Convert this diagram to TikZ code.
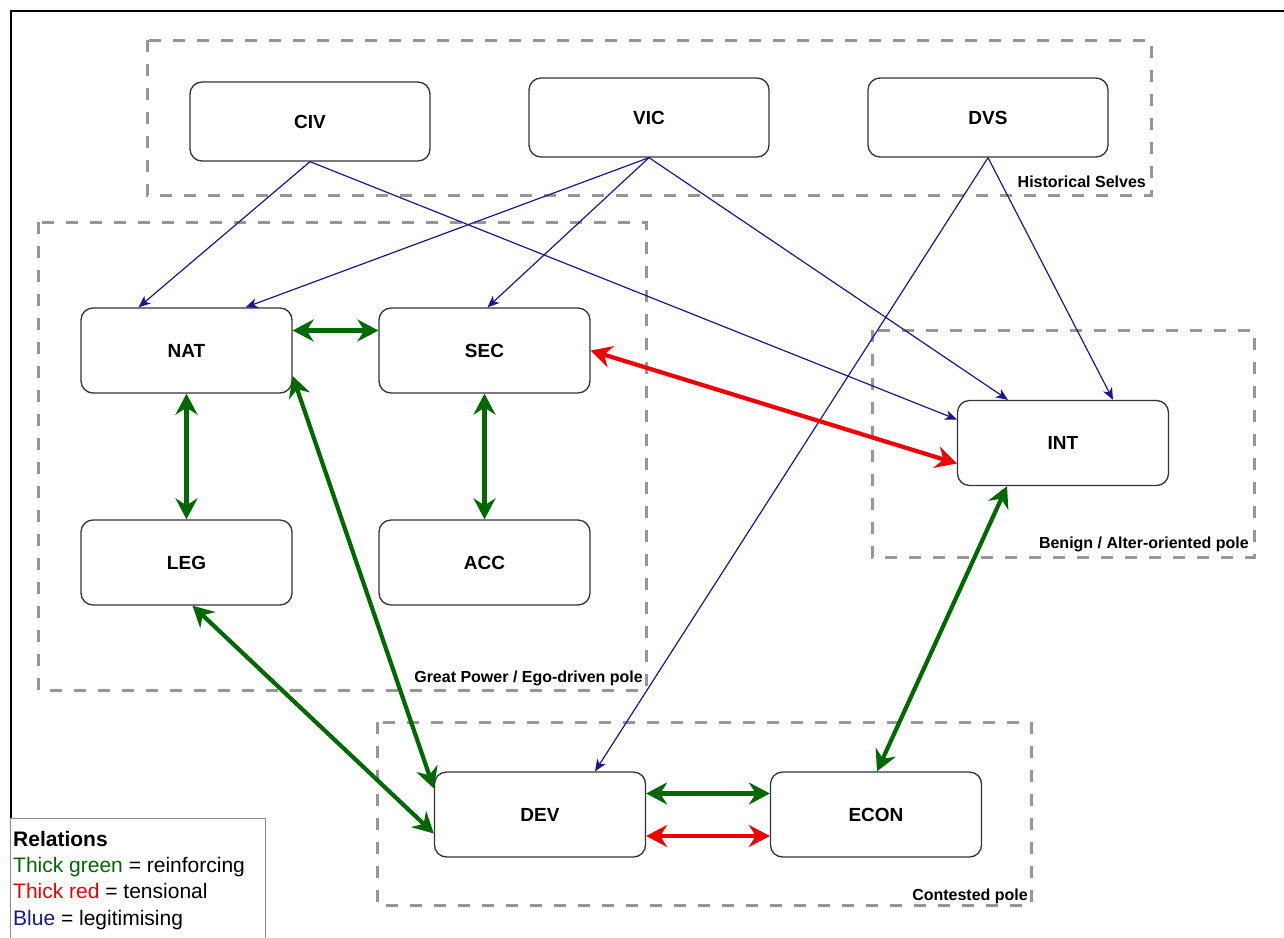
\documentclass[tikz,border=0pt]{standalone}
\usepackage{fontspec}
\setmainfont{Liberation Sans}
\usetikzlibrary{arrows.meta}

\definecolor{relgreen}{RGB}{0,104,0}
\definecolor{relred}{RGB}{238,0,0}
\definecolor{relblue}{RGB}{24,24,140}
\definecolor{polegray}{RGB}{150,150,150}

\tikzset{
  role/.style={draw=black!80, line width=1.3pt, rounded corners=12pt, fill=white,
    minimum width=211pt, minimum height=85pt, font=\bfseries\fontsize{19}{22}\selectfont},
  pole/.style={draw=polegray, line width=3pt, dash pattern=on 12pt off 12pt},
  polelabel/.style={anchor=base east, inner sep=0pt, font=\bfseries\fontsize{16}{19}\selectfont},
  reinf/.style={draw=relgreen, line width=4.2pt,
    {Stealth[length=21pt,width=22pt,inset=7pt]}-{Stealth[length=21pt,width=22pt,inset=7pt]}},
  tens/.style={draw=relred, line width=4.2pt,
    {Stealth[length=21pt,width=22pt,inset=7pt]}-{Stealth[length=21pt,width=22pt,inset=7pt]}},
  legit/.style={draw=relblue, line width=1.2pt, -{Stealth[length=12pt,width=10pt,inset=3.5pt]}},
  legend/.style={anchor=base west, inner sep=0pt, font=\fontsize{21}{25}\selectfont}
}

\begin{document}
\begin{tikzpicture}[x=1pt,y=-1pt]
\useasboundingbox (0,0) rectangle (1284,937);
%FRAME
\draw[line width=1.5pt] (1284,11) -- (11,11) -- (11,818);
%POLES
\draw[pole] (147,40) rectangle (1151,195);
\draw[pole] (38,222) rectangle (646,690);
\draw[pole] (872,330) rectangle (1254,557);
\draw[pole] (377,722) rectangle (1031,905);
\node[polelabel] (histlab) at (1146,187) {Historical Selves};
\node[polelabel] (greatlab) at (643,682) {Great Power / Ego-driven pole};
\node[polelabel] (benlab) at (1249,548) {Benign / Alter-oriented pole};
\node[polelabel] (contlab) at (1028,900) {Contested pole};
%SELVES
\node[role, minimum width=240pt, minimum height=79pt] (CIV) at (310,121.5) {CIV};
\node[role, minimum width=240pt, minimum height=79pt] (VIC) at (649,117.5) {VIC};
\node[role, minimum width=240pt, minimum height=79pt] (DVS) at (988,117.5) {DVS};
\node[role] (NAT) at (186.5,350.5) {NAT};
\node[role] (SEC) at (484.5,350.5) {SEC};
\node[role] (LEG) at (186.5,562.5) {LEG};
\node[role] (ACC) at (484.5,562.5) {ACC};
\node[role] (INT) at (1063,443) {INT};
\node[role] (DEV) at (540,814.5) {DEV};
\node[role] (ECON) at (876,814.5) {ECON};
%CIV to NAT
\draw[legit] (CIV.south) -- ([xshift=-48pt]NAT.north);
%CIV to INT
\draw[legit] (CIV.south) -- ([yshift=23.5pt]INT.west);
%VIC to NAT
\draw[legit] (VIC.south) -- ([xshift=59pt]NAT.north);
%VIC to SEC
\draw[legit] (VIC.south) -- ([xshift=3pt]SEC.north);
%VIC to INT
\draw[legit] (VIC.south) -- ([xshift=-55pt]INT.north);
%DVS to INT
\draw[legit] (DVS.south) -- ([xshift=50pt]INT.north);
%DVS to DEV
\draw[legit] (DVS.south) -- ([xshift=55pt]DEV.north);
%NAT to SEC
\draw[reinf] ([yshift=20pt]NAT.east) -- ([yshift=20pt]SEC.west);
%NAT to LEG
\draw[reinf] (NAT.south) -- (LEG.north);
%SEC to ACC
\draw[reinf] (SEC.south) -- (ACC.north);
%NAT to DEV
\draw[reinf] ([yshift=-25.5pt]NAT.east) -- ([yshift=26pt]DEV.west);
%LEG to DEV
\draw[reinf] ([xshift=6pt]LEG.south) -- ([yshift=-19pt]DEV.west);
%SEC to INT
\draw[tens] (SEC.east) -- ([yshift=-20.5pt]INT.west);
%INT to ECON
\draw[reinf] ([xshift=-56pt]INT.south) -- ([xshift=1pt]ECON.north);
%DEV to ECON
\draw[reinf] ([yshift=21pt]DEV.east) -- ([yshift=21pt]ECON.west);
\draw[tens] ([yshift=-21.5pt]DEV.east) -- ([yshift=-21.5pt]ECON.west);
%LEGEND
\draw[draw=black!45, line width=1pt, fill=white] (10,818) rectangle (265,945);
\node[legend, font=\bfseries\fontsize{21}{25}\selectfont] (relhead) at (13,846) {Relations};
\node[legend] (relgreen) at (13,872) {\textcolor{relgreen}{Thick green} = reinforcing};
\node[legend] (relred) at (13,898.5) {\textcolor{relred}{Thick red} = tensional};
\node[legend] (relblue) at (13,925) {\textcolor{relblue}{Blue} = legitimising};
\end{tikzpicture}
\end{document}
